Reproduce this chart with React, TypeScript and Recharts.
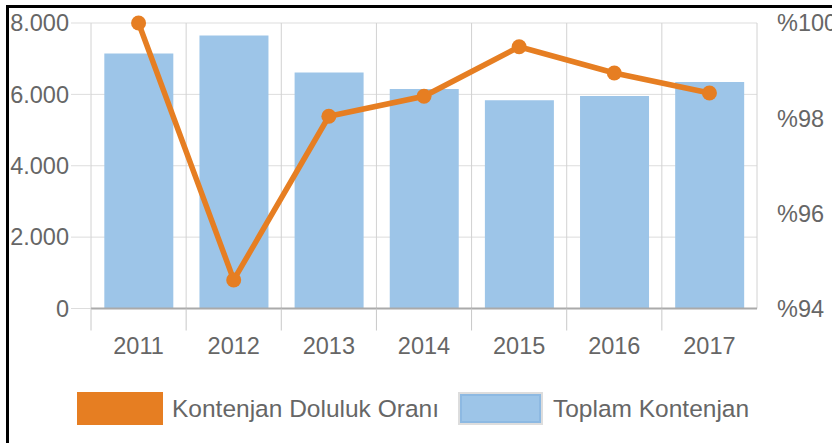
import React from "react";
import {
  ComposedChart,
  Bar,
  Line,
  XAxis,
  YAxis,
  CartesianGrid,
  Legend,
} from "recharts";

// Yillar, toplam kontenjan (sol eksen) ve doluluk orani (sag eksen, %)
const years = ["2011", "2012", "2013", "2014", "2015", "2016", "2017"];
const toplamKontenjan = [7143, 7647, 6612, 6152, 5836, 5957, 6348];
const dolulukOrani = [100, 94.6, 98.04, 98.46, 99.5, 98.95, 98.53];
const leftTicks = [0, 2000, 4000, 6000, 8000];
const rightTicks = [94, 96, 98, 100];

const ORANGE = "#E67E22";
const BLUE = "#9DC5E8";
const TEXT = "#666666";
const FONT = "'Liberation Sans', Arial, sans-serif";

const TICK_SIZE = 26;
const TICK_MARGIN = 2.5;

const data = years.map((year, i) => ({
  year,
  toplam: toplamKontenjan[i],
  oran: dolulukOrani[i],
}));

const formatThousands = (v: number) =>
  String(v).replace(/\B(?=(\d{3})+(?!\d))/g, ".");

// etichetta dell'anno + trattino grigio sul bordo sinistro della banda
function YearTick(props: any) {
  const { x, y, payload, width, visibleTicksCount } = props;
  const count = visibleTicksCount || years.length;
  const half = (width ? width / count : 666 / 7) / 2;
  const base = y - TICK_SIZE - TICK_MARGIN;
  return (
    <g>
      <line x1={x - half} x2={x - half} y1={base} y2={base + 22} stroke="#c8c8c8" />
      <text
        x={x}
        y={y}
        dy="0.71em"
        textAnchor="middle"
        fill={TEXT}
        fontSize={23.5}
        fontFamily={FONT}
      >
        {payload.value}
      </text>
    </g>
  );
}

function LegendContent() {
  return (
    <div
      style={{
        display: "flex",
        alignItems: "center",
        paddingLeft: 77,
        fontFamily: FONT,
        fontSize: 24.5,
        color: TEXT,
      }}
    >
      <span style={{ width: 86, height: 33, background: ORANGE, display: "inline-block" }} />
      <span style={{ marginLeft: 9 }}>Kontenjan Doluluk Oranı</span>
      <span
        style={{
          marginLeft: 19,
          width: 85,
          height: 33,
          boxSizing: "border-box",
          border: "2px solid #dddddd",
          background: BLUE,
          boxShadow: "inset 0 0 0 2px #8db9e2",
          display: "inline-block",
        }}
      />
      <span style={{ marginLeft: 10 }}>Toplam Kontenjan</span>
    </div>
  );
}

export default function App() {
  const tickStyle = { fill: TEXT, fontSize: 23.5, fontFamily: FONT };
  return (
    <div
      style={{
        position: "absolute",
        left: 0,
        top: 0,
        width: 832,
        height: 443,
        background: "#fff",
        overflow: "hidden",
      }}
    >
      <ComposedChart
        width={832}
        height={443}
        data={data}
        margin={{ top: 23, right: 0, bottom: 0, left: 0 }}
        barCategoryGap="14%"
        style={{ fontFamily: FONT }}
      >
        <CartesianGrid yAxisId="left" stroke="#dddddd" vertical={false} />
        <CartesianGrid
          yAxisId="left"
          stroke="#d2d2d2"
          horizontal={false}
          verticalCoordinatesGenerator={({ offset }: any) =>
            [...years.map((_, i) => i), years.length].map(
              (i) => offset.left + (i * offset.width) / years.length
            )
          }
        />
        <XAxis
          dataKey="year"
          height={74.5}
          tickLine={false}
          tickSize={TICK_SIZE}
          tickMargin={TICK_MARGIN}
          axisLine={{ stroke: "#aaaaaa", strokeWidth: 2 }}
          tick={<YearTick />}
          interval={0}
        />
        <YAxis
          yAxisId="left"
          orientation="left"
          width={91}
          domain={[0, 8000]}
          ticks={leftTicks}
          tickFormatter={formatThousands}
          tickSize={20}
          tickMargin={2}
          tickLine={{ stroke: "#dddddd" }}
          axisLine={false}
          tick={tickStyle}
        />
        <YAxis
          yAxisId="right"
          orientation="right"
          width={75}
          domain={[94, 100]}
          ticks={rightTicks}
          tickFormatter={(v: number) => "%" + v}
          tickSize={18}
          tickMargin={2}
          tickLine={false}
          axisLine={false}
          tick={tickStyle}
        />
        <Bar
          yAxisId="left"
          dataKey="toplam"
          name="Toplam Kontenjan"
          fill={BLUE}
          isAnimationActive={false}
        />
        <Line
          yAxisId="right"
          dataKey="oran"
          name="Kontenjan Doluluk Oranı"
          type="linear"
          stroke={ORANGE}
          strokeWidth={5.5}
          dot={{ r: 7.5, fill: ORANGE, stroke: ORANGE, strokeWidth: 0 }}
          isAnimationActive={false}
        />
        <Legend
          verticalAlign="bottom"
          height={60}
          content={<LegendContent />}
          wrapperStyle={{ top: 392, left: 0, width: 832 }}
        />
      </ComposedChart>
      <div style={{ position: "absolute", left: 6, top: 5, width: 826, height: 3, background: "#000" }} />
      <div style={{ position: "absolute", left: 6, top: 5, width: 3, height: 438, background: "#000" }} />
    </div>
  );
}
